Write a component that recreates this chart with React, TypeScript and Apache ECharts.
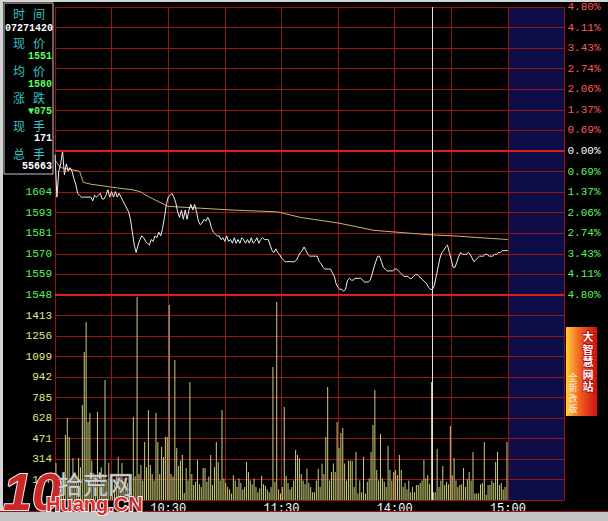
import React, { useEffect, useRef } from "react";
import * as echarts from "echarts";

// ---------- data ----------
const basePrice = 1626; // previous close
const pctPerRow = 4.8 / 7; // percent per grid row
const rowCount = 7;
const lowestVisiblePriceRow = -2; // rows above this are hidden under the info panel

// minute-by-minute price (minute 0 .. 240)
const prices: number[] = [
  1624, 1601, 1615, 1619, 1626, 1613, 1619, 1615, 1617, 1615,
  1611, 1608, 1603, 1602, 1601, 1601, 1601, 1601, 1601, 1601,
  1599, 1602, 1601, 1602, 1603, 1600, 1600, 1602, 1605, 1601,
  1604, 1601, 1604, 1601, 1603, 1601, 1599, 1597, 1595, 1593,
  1589, 1582, 1575, 1571, 1575, 1578, 1580, 1579, 1577, 1576,
  1575, 1578, 1577, 1580, 1579, 1582, 1580, 1584, 1590, 1597,
  1601, 1602, 1603, 1601, 1598, 1593, 1590, 1594, 1589, 1594,
  1589, 1594, 1597, 1594, 1597, 1593, 1588, 1586, 1587, 1589,
  1588, 1590, 1588, 1584, 1582, 1581, 1580, 1580, 1578, 1579,
  1577, 1580, 1577, 1578, 1576, 1579, 1576, 1578, 1576, 1579,
  1578, 1576, 1578, 1576, 1579, 1576, 1577, 1579, 1576, 1578,
  1579, 1578, 1578, 1578, 1575, 1572, 1571, 1573, 1571, 1570,
  1568, 1567, 1566, 1566, 1566, 1566, 1566, 1566, 1567, 1569,
  1571, 1572, 1574, 1572, 1570, 1569, 1569, 1569, 1569, 1569,
  1566, 1565, 1563, 1562, 1562, 1562, 1562, 1560, 1558, 1554,
  1552, 1551, 1551, 1550, 1551, 1556, 1557, 1556, 1556, 1557,
  1557, 1557, 1557, 1556, 1555, 1555, 1555, 1556, 1559, 1563,
  1566, 1569, 1569, 1566, 1563, 1562, 1561, 1561, 1561, 1561,
  1562, 1562, 1561, 1560, 1559, 1558, 1558, 1558, 1557, 1557,
  1558, 1559, 1559, 1558, 1557, 1556, 1555, 1554, 1552, 1551,
  1551, 1553, 1558, 1563, 1568, 1571, 1572, 1574, 1575, 1571,
  1567, 1563, 1563, 1566, 1569, 1571, 1570, 1570, 1570, 1571,
  1570, 1568, 1566, 1567, 1568, 1569, 1569, 1569, 1570, 1570,
  1569, 1569, 1569, 1570, 1570, 1571, 1571, 1572, 1572, 1572,
  1572,
];

// average price line
const avgMinutes: number[] = [0, 3, 8, 13, 15, 19, 33, 41, 45, 50, 60, 77, 94, 118, 130, 150, 169, 181, 200, 211, 240];
const avgPrices: number[] = [1621, 1617, 1616, 1615, 1609, 1608, 1606, 1605, 1604, 1601, 1596, 1595, 1594, 1593, 1590, 1587, 1583, 1582, 1580.5, 1580, 1578];

// minute volumes (minute 0 .. 239)
const volumes: number[] = [
  283, 130, 180, 150, 200, 498, 628, 482, 160, 322,
  200, 150, 322, 250, 728, 1133, 1363, 597, 666, 300,
  207, 180, 674, 120, 250, 200, 919, 150, 283, 100,
  150, 120, 200, 330, 180, 283, 100, 150, 130, 80,
  200, 636, 180, 1555, 200, 268, 150, 444, 250, 689,
  268, 200, 150, 666, 444, 200, 405, 330, 482, 482,
  1493, 200, 180, 1072, 398, 260, 300, 345, 53, 245,
  150, 904, 200, 115, 140, 306, 120, 100, 245, 245,
  140, 180, 345, 115, 250, 444, 290, 150, 689, 165,
  130, 100, 80, 50, 190, 150, 100, 165, 130, 80,
  100, 291, 215, 150, 120, 165, 100, 60, 90, 185,
  120, 110, 80, 60, 100, 1019, 140, 1516, 80, 50,
  100, 712, 185, 130, 80, 100, 150, 383, 345, 320,
  200, 150, 120, 240, 130, 100, 60, 60, 150, 240,
  100, 280, 200, 482, 865, 150, 215, 280, 215, 597,
  400, 513, 551, 280, 150, 300, 300, 300, 100, 368,
  50, 150, 60, 330, 50, 140, 165, 368, 574, 842,
  230, 150, 505, 165, 140, 100, 413, 230, 150, 215,
  230, 190, 345, 230, 100, 130, 80, 150, 60, 100,
  60, 115, 115, 130, 150, 306, 165, 190, 120, 904,
  60, 60, 390, 100, 150, 260, 115, 140, 120, 567,
  190, 322, 150, 100, 115, 120, 245, 100, 160, 215,
  150, 368, 50, 50, 50, 120, 130, 444, 40, 115,
  115, 150, 130, 291, 368, 115, 130, 80, 100, 444,
];
const volumeMax = 1570;
const volumeStep = 157;

const axisMinutes = 270; // 240 trading minutes + one empty section
const sectionMinutes = 30;
const timeTickMinutes: number[] = [60, 120, 180, 240];
const timeTickLabels: string[] = ["10:30", "11:30", "14:00", "15:00"];
const cursorMinute = 200;

const infoLabels: string[][] = [["时", "间"], ["现", "价"], ["均", "价"], ["涨", "跌"], ["现", "手"], ["总", "手"]];
const infoValues: string[] = ["07271420", "1551", "1580", "▼075", "171", "55663"];

// ---------- styles ----------
const GRID_RED = "#9a1414";
const LINE_RED = "#e01c1c";
const MONO = "'Liberation Mono', 'DejaVu Sans Mono', monospace";
const CJK = "'Noto Sans CJK SC', sans-serif";

const toRow = (p: number) => ((p / basePrice - 1) * 100) / pctPerRow;

export default function App() {
  const ref = useRef<HTMLDivElement>(null);

  useEffect(() => {
    if (!ref.current) return;
    const chart = echarts.init(ref.current, undefined, { renderer: "svg" });

    const sections = axisMinutes / sectionMinutes;
    const splitColors: string[] = [];
    for (let i = 0; i < sections; i++) splitColors.push(i === sections - 1 ? "#0d0d48" : "rgba(0,0,0,0)");

    const priceData = prices.map((p, i) => [i, toRow(p)]);
    const avgData = avgMinutes.map((m, i) => [m, toRow(avgPrices[i])]);
    const volData = volumes.map((v, i) => [i + 0.5, v]);

    const xBase = {
      type: "value",
      min: 0,
      max: axisMinutes,
      interval: sectionMinutes,
      axisLine: { show: false },
      axisTick: { show: false },
      splitLine: { show: true, lineStyle: { color: GRID_RED, width: 1 } },
      splitArea: { show: true, areaStyle: { color: splitColors } },
    };

    const rowColor = (v: any) => {
      const n = Number(v);
      if (n > 0) return "#ff5a5a";
      if (n < 0) return "#5cf55c";
      return "#ffffff";
    };

    const infoEls: any[] = [
      { type: "rect", shape: { x: 0, y: 0, width: 3, height: 512 }, style: { fill: "#d4d4d4" }, z: 100 },
      { type: "rect", shape: { x: 0, y: 0, width: 608, height: 2 }, style: { fill: "#d4d4d4" }, z: 100 },
      { type: "rect", shape: { x: 4, y: 3, width: 49, height: 171 }, style: { fill: "#000", stroke: "#c8c8c8", lineWidth: 1 }, z: 100 },
    ];
    const labelYs = [13, 42, 70, 97, 125, 153];
    const valueYs = [28, 56, 84, 111, 138, 166];
    infoLabels.forEach((pair, i) => {
      infoEls.push({ type: "text", x: 19, y: labelYs[i], z: 101, style: { text: pair[0], fill: "#36c4c4", font: `12px ${CJK}`, align: "center", verticalAlign: "middle", lineHeight: 12 } });
      infoEls.push({ type: "text", x: 39, y: labelYs[i], z: 101, style: { text: pair[1], fill: "#36c4c4", font: `12px ${CJK}`, align: "center", verticalAlign: "middle", lineHeight: 12 } });
      const green = i >= 1 && i <= 3;
      infoEls.push({
        type: "text",
        x: i === 0 ? 53 : 52,
        y: valueYs[i],
        z: 101,
        style: { text: infoValues[i], fill: green ? "#5cff5c" : "#ffffff", font: `bold 10px ${MONO}`, align: "right", verticalAlign: "middle", lineHeight: 10 },
      });
    });

    const decor: any[] = [
      // bottom status strip
      { type: "rect", shape: { x: 0, y: 511, width: 608, height: 1 }, style: { fill: "#a01010" }, z: 100 },
      { type: "rect", shape: { x: 0, y: 512, width: 608, height: 9 }, style: { fill: "#c4c4c4" }, z: 100 },
      // banner
      {
        type: "rect",
        shape: { x: 566, y: 327, width: 31, height: 89 },
        style: {
          fill: new echarts.graphic.LinearGradient(0, 0, 1, 0, [
            { offset: 0, color: "#ffcf3a" },
            { offset: 0.45, color: "#f06020" },
            { offset: 1, color: "#d01010" },
          ]),
        },
        z: 100,
      },
      { type: "text", x: 588, y: 330, z: 101, style: { text: "大\n智\n慧\n网\n站", fill: "#ffffff", stroke: "#b00000", lineWidth: 1.5, font: `bold 11px ${CJK}`, align: "center", lineHeight: 12.5 } },
      { type: "text", x: 573, y: 372, z: 101, style: { text: "全\n新\n改\n版", fill: "#fff0e0", font: `9px ${CJK}`, align: "center", lineHeight: 10.5 } },
      // watermark
      { type: "text", x: 3, y: 466, z: 102, style: { text: "10", fill: "#cc2626", stroke: "#f0f0f0", lineWidth: 2, font: `italic bold 52px 'Liberation Sans', sans-serif` } },
      { type: "text", x: 58, y: 470, z: 102, style: { text: "拾荒网", fill: "#d0d0d0", stroke: "#707070", lineWidth: 1, font: `25px ${CJK}` } },
      { type: "text", x: 46, y: 494, z: 102, style: { text: "Huang.CN", fill: "#d82c2c", stroke: "#ffffff", lineWidth: 2, font: `bold 20px 'Liberation Sans', sans-serif` } },
    ];

    chart.setOption({
      animation: false,
      backgroundColor: "#000000",
      grid: [
        { left: 55, right: 43.5, top: 7, height: 288 },
        { left: 55, right: 43.5, top: 295, height: 205 },
      ],
      xAxis: [
        { ...xBase, gridIndex: 0, axisLabel: { show: false } },
        {
          ...xBase,
          gridIndex: 1,
          axisLabel: {
            show: true,
            color: "#ffffff",
            fontFamily: MONO,
            fontSize: 12,
            margin: 3,
            showMinLabel: false,
            showMaxLabel: false,
            formatter: (v: number) => {
              const k = timeTickMinutes.indexOf(Math.round(v));
              return k >= 0 ? timeTickLabels[k] : "";
            },
          },
        },
      ],
      yAxis: [
        {
          gridIndex: 0,
          type: "value",
          position: "left",
          min: -rowCount,
          max: rowCount,
          interval: 1,
          z: 1,
          axisLine: { show: false },
          axisTick: { show: false },
          splitLine: { show: true, lineStyle: { color: GRID_RED, width: 1 } },
          axisLabel: {
            margin: 3,
            fontFamily: MONO,
            fontSize: 11,
            color: rowColor,
            formatter: (v: number) =>
              v > lowestVisiblePriceRow ? "" : String(Math.round(basePrice * (1 + (v * pctPerRow) / 100))),
          },
        },
        {
          gridIndex: 0,
          type: "value",
          position: "right",
          min: -rowCount,
          max: rowCount,
          interval: 1,
          z: 1,
          axisLine: { show: false },
          axisTick: { show: false },
          splitLine: { show: false },
          axisLabel: {
            margin: 3,
            fontFamily: MONO,
            fontSize: 11,
            color: rowColor,
            formatter: (v: number) => Math.abs(v * pctPerRow).toFixed(2) + "%",
          },
        },
        {
          gridIndex: 1,
          type: "value",
          min: 0,
          max: volumeMax,
          interval: volumeStep,
          z: 1,
          axisLine: { show: false },
          axisTick: { show: false },
          splitLine: { show: true, lineStyle: { color: GRID_RED, width: 1 } },
          axisLabel: {
            margin: 3,
            fontFamily: MONO,
            fontSize: 11,
            color: "#e6e682",
            showMinLabel: false,
            showMaxLabel: false,
            formatter: (v: number) => (v <= 0 || v >= volumeMax ? "" : String(v)),
          },
        },
      ],
      series: [
        {
          type: "line",
          xAxisIndex: 0,
          yAxisIndex: 0,
          data: priceData,
          showSymbol: false,
          lineStyle: { color: "#f0f0f0", width: 1 },
          z: 3,
          markLine: {
            silent: true,
            symbol: ["none", "none"],
            label: { show: false },
            data: [
              { yAxis: 0, lineStyle: { color: LINE_RED, width: 2, type: "solid" } },
              { yAxis: -rowCount, lineStyle: { color: LINE_RED, width: 2, type: "solid" } },
              { xAxis: cursorMinute, lineStyle: { color: "#e4e4e4", width: 1, type: "solid" } },
            ],
          },
        },
        {
          type: "line",
          xAxisIndex: 0,
          yAxisIndex: 0,
          data: avgData,
          showSymbol: false,
          lineStyle: { color: "#c8b46a", width: 1 },
          z: 2,
        },
        {
          type: "bar",
          xAxisIndex: 1,
          yAxisIndex: 2,
          data: volData,
          barWidth: 1,
          itemStyle: { color: "#cccc7a" },
          markLine: {
            silent: true,
            symbol: ["none", "none"],
            label: { show: false },
            data: [{ xAxis: cursorMinute, lineStyle: { color: "#e4e4e4", width: 1, type: "solid" } }],
          },
        },
      ],
      graphic: [...infoEls, ...decor],
    });

    return () => chart.dispose();
  }, []);

  return (
    <div
      ref={ref}
      style={{ position: "fixed", left: 0, top: 0, width: 608, height: 521, background: "#000" }}
    />
  );
}
